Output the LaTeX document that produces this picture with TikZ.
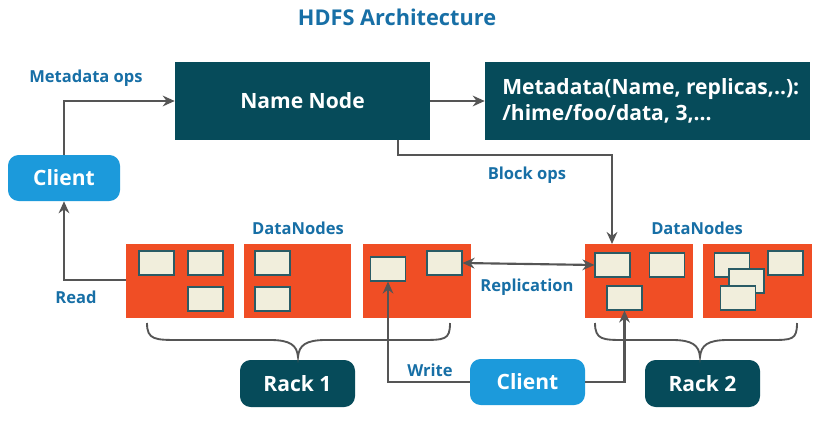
\documentclass[tikz,border=0pt]{standalone}
\usepackage{fontspec}
\setmainfont{Open Sans}
\usetikzlibrary{arrows.meta}
\definecolor{teal}{HTML}{064B5A}
\definecolor{lblue}{HTML}{1C9ADB}
\definecolor{tblue}{HTML}{176FA6}
\definecolor{rred}{HTML}{F04E25}
\definecolor{cream}{HTML}{F1EEDC}
\definecolor{ln}{HTML}{555555}
\begin{document}
\begin{tikzpicture}[x=0.75pt,y=-0.75pt,
  big/.style={font=\bfseries\fontsize{15.8}{20}\selectfont},
  dark/.style={fill=teal,draw=none,text=white,big},
  cli/.style={fill=lblue,draw=none,rounded corners=8pt,text=white,big},
  rk/.style={fill=teal,draw=none,rounded corners=8pt,text=white,big},
  lbl/.style={text=tblue,font=\bfseries\fontsize{12.4}{15}\selectfont},
  rack/.style={fill=rred,draw=none},
  blk/.style={fill=cream,draw=teal!70!gray,line width=0.8pt},
  ar/.style={draw=ln,line width=1.6pt,-{Stealth[length=9pt,width=8pt]}},
  br/.style={draw=ln,line width=1.4pt}]
\useasboundingbox (0,0) rectangle (816,421);
\fill[white] (0,0) rectangle (816,421);
\node[text=tblue,font=\bfseries\fontsize{16.3}{20}\selectfont] (title) at (397,17) {HDFS Architecture};
\node[dark,minimum width=255*0.75pt,minimum height=78*0.75pt] (nn) at (302.5,101) {Name Node};
\node[dark,minimum width=325*0.75pt,minimum height=78*0.75pt] (md) at (647.5,101) {};
\node[text=white,big,align=left,anchor=west,inner sep=0pt] (mdt) at (502,101) {Metadata(Name, replicas,..):\\/hime/foo/data, 3,...};
\node[cli,minimum width=112*0.75pt,minimum height=46*0.75pt] (c1) at (64,178) {Client};
\node[cli,minimum width=115*0.75pt,minimum height=46*0.75pt] (c2) at (527.5,382) {Client};
\node[rk,minimum width=115*0.75pt,minimum height=47*0.75pt] (r1) at (297.5,383.5) {Rack 1};
\node[rk,minimum width=115*0.75pt,minimum height=47*0.75pt] (r2) at (702.5,383.5) {Rack 2};
% racks
\node[rack,minimum width=108*0.75pt,minimum height=74*0.75pt] (d1) at (180,281) {};
\node[rack,minimum width=107*0.75pt,minimum height=74*0.75pt] (d2) at (297.5,281) {};
\node[rack,minimum width=108*0.75pt,minimum height=74*0.75pt] (d3) at (417,281) {};
\node[rack,minimum width=108*0.75pt,minimum height=74*0.75pt] (d4) at (639,281) {};
\node[rack,minimum width=109*0.75pt,minimum height=74*0.75pt] (d5) at (757.5,281) {};
\tikzset{b/.style={blk,minimum width=35*0.75pt,minimum height=24*0.75pt,inner sep=0pt}}
\node[b] (b1) at (156.5,263) {};
\node[b] (b2) at (205.5,263) {};
\node[b] (b3) at (205.5,299) {};
\node[b] (b4) at (272.5,263) {};
\node[b] (b5) at (272.5,299) {};
\node[b] (b6) at (388,269) {};
\node[b] (b7) at (444.5,263) {};
\node[b] (b8) at (612.5,265) {};
\node[b] (b9) at (667,265) {};
\node[b] (b10) at (624.5,298) {};
\node[b] (b11) at (785.5,263) {};
\node[b] (b12) at (732,265) {};
\node[b] (b13) at (746.5,281) {};
\node[b] (b14) at (738,298) {};
% labels
\node[lbl] (l1) at (86,78) {Metadata ops};
\node[lbl] (l2) at (527,175) {Block ops};
\node[lbl] (l3) at (298,228) {DataNodes};
\node[lbl] (l4) at (697,228) {DataNodes};
\node[lbl] (l5) at (76,297) {Read};
\node[lbl] (l6) at (527,287) {Replication};
\node[lbl] (l7) at (430,370) {Write};
% arrows
\draw[ar] (c1.north) |- (nn.west);
\draw[ar] (nn.east) -- (md.west);
\draw[ar] (398,140) |- (612,155) -- (612,244);
\draw[ar] (d1.west |- 0,280) -| (c1.south);
\draw[draw=ln,line width=1.6pt,{Stealth[length=9pt,width=8pt]}-{Stealth[length=9pt,width=8pt]}] (b7.east) -- (b8.west);
\draw[ar] (c2.west) -| (b6.south);
\draw[ar] (c2.east) -| (b10.south);
% braces
\draw[br] (147,323) .. controls (147,340) and (155,340) .. (180,340) -- (270,340) .. controls (290,340) and (297,345) .. (298,357)
  .. controls (299,345) and (306,340) .. (326,340) -- (420,340) .. controls (445,340) and (450,340) .. (450,323);
\draw[br] (595,323) .. controls (595,340) and (603,340) .. (625,340) -- (672,340) .. controls (692,340) and (699,345) .. (700,357)
  .. controls (701,345) and (708,340) .. (728,340) -- (770,340) .. controls (792,340) and (797,340) .. (797,323);
\end{tikzpicture}
\end{document}
